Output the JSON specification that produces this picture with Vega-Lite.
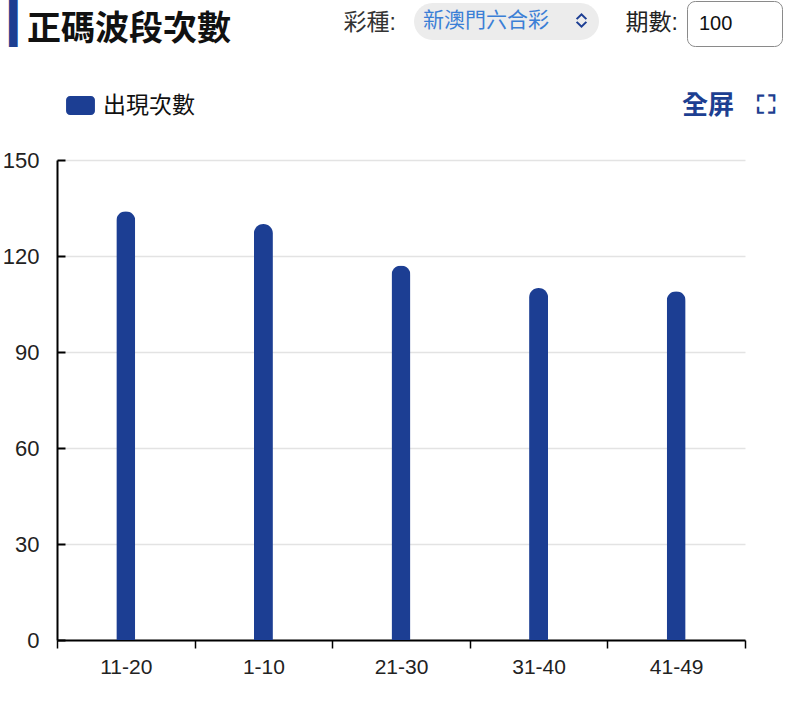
{
  "$schema": "https://vega.github.io/schema/vega-lite/v6.json",
  "width": 688,
  "height": 480,
  "autosize": {"type": "none"},
  "padding": {"left": 57, "top": 160, "right": 55, "bottom": 63},
  "background": "white",
  "data": {
    "values": [
      {"range": "11-20", "count": 134},
      {"range": "1-10", "count": 130},
      {"range": "21-30", "count": 117},
      {"range": "31-40", "count": 110},
      {"range": "41-49", "count": 109}
    ]
  },
  "title": {
    "text": "正碼波段次數",
    "anchor": "start",
    "frame": "group",
    "dx": -30,
    "offset": -47,
    "font": "Liberation Sans, Noto Sans CJK TC",
    "fontSize": 34,
    "fontWeight": "bold",
    "color": "#111111"
  },
  "layer": [
    {
      "mark": {"type": "bar", "width": 19, "cornerRadiusTopLeft": 9.5, "cornerRadiusTopRight": 9.5},
      "encoding": {
        "x": {
          "field": "range", "type": "nominal", "sort": null,
          "scale": {"paddingInner": 0, "paddingOuter": 0},
          "axis": {
            "orient": "bottom", "labelAngle": 0, "labelFontSize": 21, "labelFont": "Liberation Sans",
            "labelColor": "#222222", "labelPadding": 8, "tickSize": 8, "tickColor": "#000000", "tickWidth": 1.5,
            "tickBand": "extent", "domainColor": "#000000", "domainWidth": 2, "grid": false,
            "title": "期數:", "titleX": 568, "titleY": -618, "titleAngle": 0,
            "titleAlign": "left", "titleBaseline": "middle", "titleFontSize": 23, "titleFontWeight": "normal",
            "titleColor": "#222222", "titleFont": "Liberation Sans, Noto Sans CJK TC"
          }
        },
        "y": {
          "field": "count", "type": "quantitative",
          "scale": {"domain": [0, 150], "nice": false},
          "axis": {
            "orient": "left", "values": [0, 30, 60, 90, 120, 150], "labelFontSize": 22,
            "labelFont": "Liberation Sans", "labelColor": "#222222", "labelPadding": 26,
            "tickSize": -8, "tickColor": "#000000", "tickWidth": 2, "domainColor": "#000000", "domainWidth": 2,
            "gridColor": "#e3e3e3", "gridWidth": 1.5,
            "title": "彩種:", "titleX": 286, "titleY": -138, "titleAngle": 0, "titleAlign": "left",
            "titleBaseline": "middle", "titleFontSize": 23, "titleFontWeight": "normal", "titleColor": "#333333",
            "titleFont": "Liberation Sans, Noto Sans CJK TC"
          }
        },
        "color": {
          "datum": "出現次數", "type": "nominal",
          "scale": {"range": ["#1c3e93"]},
          "legend": {
            "orient": "none", "legendX": 12, "legendY": -66, "title": null,
            "symbolType": "M-1.1,-1H1.1A0.42,0.42 0 0 1 1.52,-0.58V0.58A0.42,0.42 0 0 1 1.1,1H-1.1A0.42,0.42 0 0 1 -1.52,0.58V-0.58A0.42,0.42 0 0 1 -1.1,-1Z",
            "symbolSize": 361, "symbolStrokeWidth": 0, "labelFontSize": 23, "labelFont": "Noto Sans CJK TC",
            "labelColor": "#111111", "labelOffset": 11, "padding": 0
          }
        },
        "opacity": {
          "datum": "新澳門六合彩", "type": "nominal",
          "scale": {"range": [1, 1]},
          "legend": {
            "orient": "none", "legendX": 357, "legendY": -157, "title": "新澳門六合彩", "titleOrient": "left",
            "titleFontSize": 21, "titleFont": "Noto Sans CJK TC", "titleFontWeight": "normal", "titleColor": "#3b7fd6",
            "titlePadding": 24,
            "symbolType": "M-0.7,-0.25L0,-0.95L0.7,-0.25L0.52,-0.08L0,-0.6L-0.52,-0.08ZM-0.7,0.25L0,0.95L0.7,0.25L0.52,0.08L0,0.6L-0.52,0.08Z",
            "symbolSize": 256, "symbolFillColor": "#3b7fd6", "symbolStrokeColor": "#3b7fd6", "symbolStrokeWidth": 0.5,
            "labelExpr": "''", "labelOffset": 0,
            "fillColor": "#ececec", "cornerRadius": 20, "padding": 9
          }
        },
        "stroke": {
          "datum": "100", "type": "nominal",
          "scale": {"range": ["transparent"]},
          "legend": {
            "orient": "none", "legendX": 630, "legendY": -159, "title": "100", "titleOrient": "left",
            "titleFontSize": 20, "titleFont": "Liberation Sans", "titleFontWeight": "normal", "titleColor": "#111111",
            "titlePadding": 15,
            "symbolSize": 400, "symbolOpacity": 0, "labelOffset": 0, "labelExpr": "''",
            "strokeColor": "#8a8a8a", "cornerRadius": 8, "padding": 12
          }
        }
      }
    },
    {
      "mark": {"type": "point", "opacity": 0},
      "encoding": {
        "x": {
          "field": "range", "type": "nominal", "sort": null,
          "axis": {
            "orient": "top", "labels": false, "ticks": false, "domain": false, "grid": false,
            "title": "全屏\u00a0\u00a0\u00a0\u00a0⛶", "titleX": 718, "titleY": -55, "titleAlign": "right", "titleBaseline": "middle",
            "titleFontSize": 26, "titleFontWeight": "bold", "titleColor": "#1d3f91",
            "titleFont": "Noto Sans CJK TC, DejaVu Sans"
          }
        },
        "y": {
          "field": "count", "type": "quantitative",
          "scale": {"domain": [0, 150], "nice": false},
          "axis": {
            "orient": "right", "labels": false, "ticks": false, "domain": false, "grid": false,
            "title": "▎", "titleX": -736, "titleY": -138, "titleAngle": 0, "titleAlign": "left",
            "titleBaseline": "middle", "titleFontSize": 44, "titleFontWeight": "normal", "titleColor": "#1d3f91",
            "titleFont": "DejaVu Sans"
          }
        }
      }
    }
  ],
  "resolve": {"axis": {"x": "independent", "y": "independent"}},
  "config": {"view": {"stroke": null}}
}
